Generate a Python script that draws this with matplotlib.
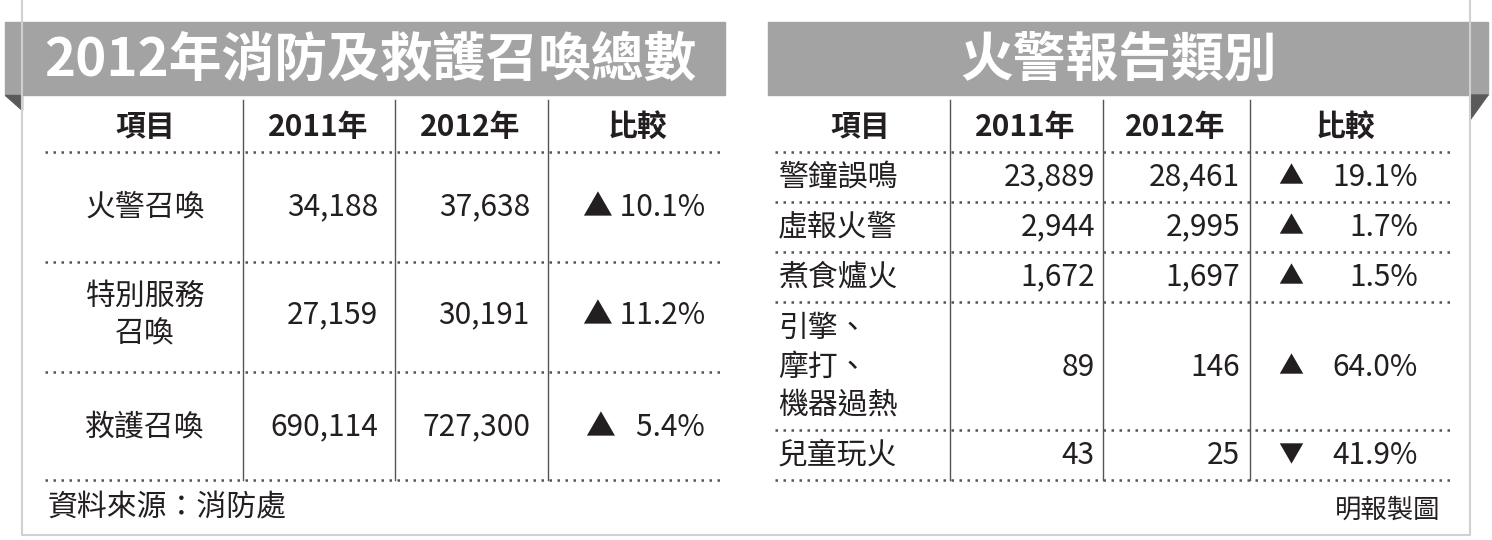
import matplotlib
matplotlib.use("Agg")
import matplotlib.pyplot as plt
from matplotlib.patches import Polygon, Rectangle

FONT = "Noto Sans CJK TC"
left_title = "2012年消防及救護召喚總數"
right_title = "火警報告類別"
headers = ["項目", "2011年", "2012年", "比較"]
left_items = ["火警召喚", "特別服務\n召喚", "救護召喚"]
left_2011 = ["34,188", "27,159", "690,114"]
left_2012 = ["37,638", "30,191", "727,300"]
left_cmp = ["▲ 10.1%", "▲ 11.2%", "▲   5.4%"]
right_items = ["警鐘誤鳴", "虛報火警", "煮食爐火", "引擎、\n摩打、\n機器過熱", "兒童玩火"]
right_2011 = ["23,889", "2,944", "1,672", "89", "43"]
right_2012 = ["28,461", "2,995", "1,697", "146", "25"]
right_sign = ["▲", "▲", "▲", "▲", "▼"]
right_pct = ["19.1%", "1.7%", "1.5%", "64.0%", "41.9%"]
source = "資料來源：消防處"
credit = "明報製圖"

fig = plt.figure(figsize=(14.92, 5.4), dpi=100)
ax = fig.add_axes([0, 0, 1, 1])
ax.set_xlim(0, 1492); ax.set_ylim(540, 0); ax.axis("off")
fs = 21.5
tc = "#231f20"

ax.plot([22, 22, 1470, 1470], [0, 535, 535, 0], color="#d0d0d0", lw=1.5)

ax.add_patch(Rectangle((5, 22), 720, 73, color="#a3a3a3"))
ax.add_patch(Polygon([(5, 95), (22, 95), (22, 110)], color="#5a5a5a"))
ax.add_patch(Rectangle((768, 22), 720, 73, color="#a3a3a3"))
ax.add_patch(Polygon([(1470, 95), (1488, 95), (1470, 120)], color="#5a5a5a"))
ax.text(370, 60, left_title, fontsize=38, fontweight="bold", color="white", ha="center", va="center", family=FONT)
ax.text(1118, 60, right_title, fontsize=38, fontweight="bold", color="white", ha="center", va="center", family=FONT)

def dots(x0, x1, y):
    ax.plot([x0, x1], [y, y], color="#555", lw=1.8, ls=(0, (1, 2.2)))

lv = [243, 395, 548]
for x in lv:
    ax.plot([x, x], [100, 480], color="#555", lw=1)
hx = [145, 318, 470, 637]
for x, h in zip(hx, headers):
    ax.text(x, 127, h, fontsize=fs, fontweight="bold", ha="center", va="center", family=FONT, color=tc)
for y in [152, 262, 372, 480]:
    dots(45, 725, y)
ly = [207, 315, 427]
for i, y in enumerate(ly):
    ax.text(145, y, left_items[i], fontsize=fs, ha="center", va="center", family=FONT, color=tc, linespacing=1.25)
    ax.text(378, y, left_2011[i], fontsize=fs, ha="right", va="center", family=FONT, color=tc)
    ax.text(530, y, left_2012[i], fontsize=fs, ha="right", va="center", family=FONT, color=tc)
    ax.text(705, y, left_cmp[i], fontsize=fs, ha="right", va="center", family=FONT, color=tc)
ax.text(48, 508, source, fontsize=fs, ha="left", va="center", family=FONT, color=tc)

rv = [950, 1103, 1250]
for x in rv:
    ax.plot([x, x], [100, 480], color="#555", lw=1)
rhx = [860, 1025, 1175, 1345]
for x, h in zip(rhx, headers):
    ax.text(x, 127, h, fontsize=fs, fontweight="bold", ha="center", va="center", family=FONT, color=tc)
for y in [152, 202, 252, 302, 430, 480]:
    dots(775, 1450, y)
ry = [177, 227, 277, 367, 455]
for i, y in enumerate(ry):
    ax.text(778, y, right_items[i], fontsize=fs, ha="left", va="center", family=FONT, color=tc, linespacing=1.3)
    ax.text(1095, y, right_2011[i], fontsize=fs, ha="right", va="center", family=FONT, color=tc)
    ax.text(1240, y, right_2012[i], fontsize=fs, ha="right", va="center", family=FONT, color=tc)
    ax.text(1278, y, right_sign[i], fontsize=18, ha="left", va="center", family=FONT, color=tc)
    ax.text(1418, y, right_pct[i], fontsize=fs, ha="right", va="center", family=FONT, color=tc)
ax.text(1440, 510, credit, fontsize=19, ha="right", va="center", family=FONT, color=tc)

fig.savefig("out.png", dpi=100, facecolor="white")
